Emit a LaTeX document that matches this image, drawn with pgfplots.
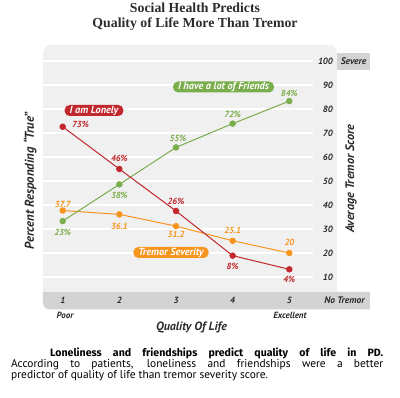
\documentclass[border=0pt]{standalone}
\usepackage{pgfplots}
\pgfplotsset{compat=1.18}
\usepackage{fontspec}
\setmainfont{PT Sans}
\newfontfamily\titlefont{Liberation Serif}
\newfontfamily\capbold{Fira Sans}
\definecolor{lonely}{HTML}{C1272D}
\definecolor{friends}{HTML}{7AAD4B}
\definecolor{tremor}{HTML}{F7941E}
\definecolor{bgc}{HTML}{F0F0F0}
\definecolor{bandc}{HTML}{D3D3D4}
\definecolor{txt}{HTML}{2B2B2B}
\tikzset{lab/.style={font=\bfseries\itshape\fontsize{8.8}{9}\selectfont}}
\begin{document}
\begin{tikzpicture}[px/.style={x=1pt,y=-1pt,shift={(-43pt,309.5pt)}}]
\begin{scope}[px]
\path[use as bounding box] (0,0) rectangle (400,398);
\fill[bgc, rounded corners=8pt] (43,309.5) rectangle (337,45);
\fill[bandc] (43,292) -- (43,302.5) arc[start angle=180, end angle=90, radius=7] -- (370,309.5) -- (370,292) -- cycle;
\fill[bandc] (337,53) rectangle (370,70);
\end{scope}

\begin{axis}[at={(0,0)}, anchor=south west, scale only axis,
  width=294pt, height=264.5pt,
  xmin=0.652, xmax=5.842, ymin=-3.54, ymax=106.67,
  axis line style={draw=none}, major tick length=0pt,
  xtick={1,2,3,4,5}, ytick={10,20,...,100},
  yticklabel pos=right,
  /pgf/number format/assume math mode=true,
  ticklabel style={font=\bfseries\itshape\fontsize{9}{10}\selectfont, text=txt},
  yticklabel style={anchor=east, inner sep=0pt, xshift=-4pt},
  xticklabel style={anchor=center, yshift=9.5pt},
  clip=false,
  label style={font=\bfseries\itshape\fontsize{12}{13}\selectfont, text=txt},
  xlabel={Quality Of Life},
  xlabel style={at={(rel axis cs:0.5051,-0.068)}, anchor=center},
  ylabel={Percent Responding “True”},
  ylabel style={at={(rel axis cs:-0.0442,0.486)}, anchor=center, font=\bfseries\itshape\fontsize{12.8}{13}\selectfont},
]
\pgfplotsinvokeforeach{10,20,...,100}{\draw[white, line width=1.3pt] (axis cs:0.652,#1) -- (axis cs:5.418,#1);}

\addplot[tremor, line width=1pt, mark=*, mark size=2.7pt, mark options={solid, fill=tremor, draw=tremor},
  nodes near coords, point meta=explicit symbolic,
  visualization depends on={value \thisrow{dx}\as\dx},
  visualization depends on={value \thisrow{dy}\as\dy},
  every node near coord/.append style={anchor=center, xshift=\dx pt, yshift=\dy pt, lab, text=tremor}]
  table[meta=lab] {
x y dx dy lab
1 37.7 0 6.5 37.7
2 36.1 0 -12 36.1
3 31.2 0 -8 31.2
4 25.1 0 10.7 25.1
5 20 0 10.3 20
};

\addplot[friends, line width=1pt, mark=*, mark size=2.7pt, mark options={solid, fill=friends, draw=friends},
  nodes near coords, point meta=explicit symbolic,
  visualization depends on={value \thisrow{dx}\as\dx},
  visualization depends on={value \thisrow{dy}\as\dy},
  every node near coord/.append style={anchor=center, xshift=\dx pt, yshift=\dy pt, lab, text=friends}]
  table[meta=lab] {
x y dx dy lab
1 33.3 0 -11.7 23\%
2 48.6 0 -10.7 38\%
3 64.0 2 9 55\%
4 73.9 0 9.4 72\%
5 83.3 0 7.7 84\%
};

\addplot[lonely, line width=1pt, mark=*, mark size=2.7pt, mark options={solid, fill=lonely, draw=lonely},
  nodes near coords, point meta=explicit symbolic,
  visualization depends on={value \thisrow{dx}\as\dx},
  visualization depends on={value \thisrow{dy}\as\dy},
  every node near coord/.append style={anchor=center, xshift=\dx pt, yshift=\dy pt, lab, text=lonely}]
  table[meta=lab] {
x y dx dy lab
1 72.6 17.8 2.7 73\%
2 55.0 0 11 46\%
3 37.5 0 10 26\%
4 18.9 0 -11 8\%
5 13.2 0 -10 4\%
};
\end{axis}

\begin{scope}[px]
\node[font=\titlefont\bfseries\fontsize{13.8}{14}\selectfont, anchor=base, text=txt, inner sep=0pt] at (195,12.9) {Social Health Predicts};
\node[font=\titlefont\bfseries\fontsize{13.8}{14}\selectfont, anchor=base, text=txt, inner sep=0pt] at (195,27.2) {Quality of Life More Than Tremor};

\node[fill=lonely, text=white, rounded corners=5pt, font=\bfseries\itshape\fontsize{10.3}{11}\selectfont, inner xsep=5pt, inner ysep=0.5pt, minimum height=11pt] at (94,110.5) {I am Lonely};
\node[fill=friends, text=white, rounded corners=5pt, font=\bfseries\itshape\fontsize{10.3}{11}\selectfont, inner xsep=5pt, inner ysep=0.5pt, minimum height=11pt] at (223.5,87) {I have a lot of Friends};
\node[fill=tremor, text=white, rounded corners=5pt, font=\bfseries\itshape\fontsize{10.3}{11}\selectfont, inner xsep=5pt, inner ysep=0.5pt, minimum height=11pt] at (171,252.5) {Tremor Severity};

\node[rotate=90, font=\bfseries\itshape\fontsize{12.3}{13}\selectfont, text=txt] at (351,178.5) {Average Tremor Score};
\node[font=\bfseries\itshape\fontsize{9.5}{10}\selectfont, text=txt] at (353.5,61.5) {Severe};
\node[font=\bfseries\itshape\fontsize{9.5}{10}\selectfont, text=txt] at (344.5,300) {No Tremor};
\node[font=\bfseries\itshape\fontsize{9}{10}\selectfont, text=txt] at (65,315.5) {Poor};
\node[font=\bfseries\itshape\fontsize{9}{10}\selectfont, text=txt] at (290,315.5) {Excellent};

\node[anchor=base west, inner sep=0pt, font=\capbold\bfseries\fontsize{10.6}{11}\selectfont] at (50,356.5) {\makebox[333pt][s]{Loneliness and friendships predict quality of life in PD.}};
\node[anchor=base west, inner sep=0pt, font=\fontsize{11.4}{11}\selectfont] at (11,367.5) {\makebox[372pt][s]{According to patients, loneliness and friendships were a better}};
\node[anchor=base west, inner sep=0pt, font=\fontsize{11.4}{11}\selectfont] at (11,378.5) {predictor of quality of life than tremor severity score.};
\end{scope}
\end{tikzpicture}
\end{document}
